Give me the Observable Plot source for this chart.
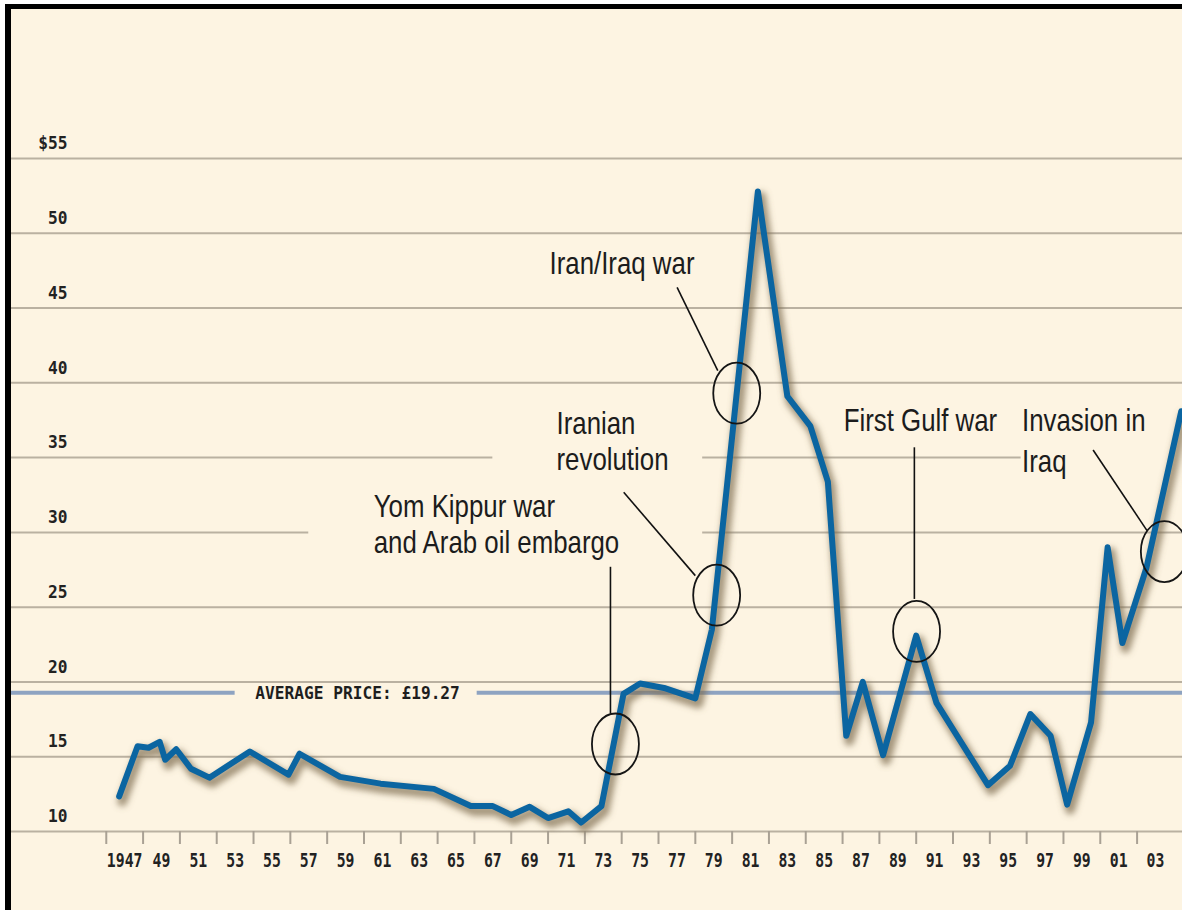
<!DOCTYPE html>
<html><head><meta charset="utf-8">
<script src="https://cdn.jsdelivr.net/npm/d3@7"></script>
<script src="https://cdn.jsdelivr.net/npm/@observablehq/plot@0.6"></script>
<style>
html,body{margin:0;padding:0;background:#fff;}
#wrap{position:relative;width:1182px;height:910px;overflow:hidden;background:#fff;}
#chart{position:absolute;left:0;top:0;}
.w{position:absolute;background:#fff;}
.b{position:absolute;background:#000;}
</style></head><body>
<div id="wrap">
  <div id="chart"></div>
  <div class="w" style="left:0;top:0;width:5px;height:910px"></div>
  <div class="w" style="left:0;top:0;width:1182px;height:4px"></div>
  <div class="b" style="left:5px;top:4px;width:6px;height:906px"></div>
  <div class="b" style="left:5px;top:4px;width:1177px;height:5px"></div>
</div>
<script>
// ---- data (year as decimal, price in $) ----
const years = [1946.7,1947.7,1948.3,1948.9,1949.2,1949.8,1950.6,1951.6,1953.8,1955.9,1956.5,1958.7,1960.9,1963.8,1965.8,1967.0,1968.0,1969.0,1970.0,1971.1,1971.8,1972.9,1974.1,1975.0,1976.3,1978.0,1978.9,1981.4,1983.0,1984.25,1985.2,1986.2,1987.1,1988.2,1990.0,1991.1,1993.9,1995.1,1996.2,1997.3,1998.2,1999.5,2000.4,2001.2,2002.5,2004.4];
const prices = [12.35,15.7,15.6,16.0,14.8,15.5,14.2,13.6,15.35,13.8,15.2,13.65,13.2,12.85,11.7,11.7,11.1,11.65,10.9,11.35,10.6,11.7,19.2,19.9,19.6,18.9,23.5,52.8,39.1,37.1,33.4,16.4,20.0,15.1,23.1,18.6,13.1,14.4,17.85,16.4,11.8,17.3,29.0,22.6,27.6,38.1];
const averagePrice = 19.27;
const gridValues = [10,15,20,25,30,35,40,45,50,55];
const tickYears = d3.range(1946, 2003, 2);
const labelYears = d3.range(1947, 2004, 2);

// annotations: label lines, pointer lines and circled events
const labelLines = [
  {text:"Iran/Iraq war", year:1970.08, price:47.27},
  {text:"Iranian", year:1970.46, price:36.58},
  {text:"revolution", year:1970.46, price:34.17},
  {text:"Yom Kippur war", year:1960.53, price:31.01},
  {text:"and Arab oil embargo", year:1960.53, price:28.60},
  {text:"First Gulf war", year:1986.06, price:36.80},
  {text:"Invasion in", year:1995.75, price:36.80},
  {text:"Iraq", year:1995.75, price:34.02}
];
const pointers = [
  {year1:1973.39, price1:27.7, year2:1973.39, price2:17.9},
  {year1:1974.11, price1:32.68, year2:1978.0, price2:27.11},
  {year1:1977.01, price1:46.38, year2:1979.22, price2:40.82},
  {year1:1989.9, price1:35.69, year2:1989.9, price2:25.55},
  {year1:1999.61, price1:35.51, year2:2002.54, price2:30.12}
];
const circled = [
  {event:"Yom Kippur war", year:1973.66, price:15.85},
  {event:"Iranian revolution", year:1979.16, price:25.80},
  {event:"Iran/Iraq war", year:1980.25, price:39.31},
  {event:"First Gulf war", year:1990.02, price:23.38},
  {event:"Invasion in Iraq", year:2003.48, price:28.72}
];
// gridline breaks behind the annotation text (years)
const gridBreaks = [
  {value:35, from:1967.0, to:1978.4},
  {value:35, from:1995.7, to:null},
  {value:30, from:1957.0, to:1978.4}
];
const averageBreak = {from:1953.0, to:1966.15};
const averageLabelYear = 1959.65;

// ---- layout ----
const W = 1182, H = 910;
const xDomain = [1949, 2003], xRange = [161, 1155];
const yDomain = [10, 55], yRange = [831, 158];
const xs = d3.scaleLinear(xDomain, xRange);
const xLeft = xs.invert(10), xRight = xs.invert(W);

function cut(segs, from, to) {
  return segs.flatMap(([a, c]) => (from >= c || to <= a) ? [[a, c]] :
    [[a, from], [to, c]].filter(([p, q]) => q > p));
}
const gridSegs = gridValues.flatMap(v => {
  let segs = [[xLeft, xRight]];
  for (const b of gridBreaks.filter(b => b.value === v)) segs = cut(segs, b.from, b.to ?? xRight);
  return segs.map(([a, c]) => ({value: v, x1: a, x2: c}));
});
const avgSegs = cut([[xLeft, xRight]], averageBreak.from, averageBreak.to)
  .map(([a, c]) => ({value: averagePrice, x1: a, x2: c}));

const series = years.map((y, i) => ({year: y, price: prices[i]}));

const ellipse = {
  draw(ctx, size) {
    const ry = Math.sqrt(size / Math.PI), rx = ry * 0.77, k = 0.5523;
    ctx.moveTo(rx, 0);
    ctx.bezierCurveTo(rx, k * ry, k * rx, ry, 0, ry);
    ctx.bezierCurveTo(-k * rx, ry, -rx, k * ry, -rx, 0);
    ctx.bezierCurveTo(-rx, -k * ry, -k * rx, -ry, 0, -ry);
    ctx.bezierCurveTo(k * rx, -ry, rx, -k * ry, rx, 0);
    ctx.closePath();
  }
};

const pixFont = "DejaVu Sans Mono";
const annFont = "'Liberation Sans', Arial, sans-serif";

const chart = Plot.plot({
  width: W, height: H,
  marginLeft: 10, marginRight: 0, marginTop: 9, marginBottom: 79,
  style: {background: "#fdf4e2", overflow: "visible"},
  x: {domain: xDomain, range: xRange, axis: null},
  y: {domain: yDomain, range: yRange, axis: null},
  marks: [
    Plot.ruleY(gridSegs, {y: "value", x1: "x1", x2: "x2", stroke: "#bab1a1", strokeWidth: 2}),
    Plot.ruleY(avgSegs, {y: "value", x1: "x1", x2: "x2", stroke: "#8ea3c1", strokeWidth: 4}),
    Plot.text([{year: averageLabelYear, price: averagePrice}], {
      x: "year", y: "price", text: () => `AVERAGE PRICE: £${averagePrice}`, ariaLabel: "avg",
      fontFamily: pixFont, fontWeight: "bold", fontSize: 18, fill: "#1e1e1e", textAnchor: "middle"
    }),
    Plot.axisY(gridValues, {
      tickSize: 0, tickPadding: 0, dx: 57, dy: -15, textAnchor: "end",
      tickFormat: d => d === 55 ? "$55" : String(d), label: null,
      fontFamily: pixFont, fontWeight: "bold", fontSize: 18, fill: "#222"
    }),
    Plot.axisX(tickYears, {
      tickSize: 13, tickFormat: () => "", stroke: "#a9a194", strokeWidth: 2, label: null
    }),
    Plot.axisX(labelYears, {
      tickSize: 0, tickPadding: 21, label: null,
      tickFormat: d => d === 1947 ? "1947" : String(d % 100).padStart(2, "0"),
      fontFamily: pixFont, fontWeight: "bold", fontSize: 20, fill: "#222"
    }),
    Plot.line(series, {x: "year", y: "price", stroke: "#7d6c50", strokeOpacity: 0.7, strokeWidth: 10, dx: 3, dy: 5, curve: "linear"}),
    Plot.line(series, {x: "year", y: "price", stroke: "#0b65a1", strokeWidth: 6, strokeLinejoin: "round", curve: "linear"}),
    Plot.link(pointers, {x1: "year1", y1: "price1", x2: "year2", y2: "price2", stroke: "#111", strokeWidth: 1.6}),
    Plot.dot(circled, {x: "year", y: "price", r: 30.5, symbol: ellipse, stroke: "#151515", strokeWidth: 1.8, fill: "none"}),
    Plot.text(labelLines, {
      x: "year", y: "price", text: "text", textAnchor: "start", lineAnchor: "bottom",
      fontFamily: annFont, fontSize: 31.5, fill: "#1c1c1c"
    })
  ]
});

// horizontally condense text (narrow typefaces are not installed)
function squeeze(g, s) {
  if (!g) return;
  g.querySelectorAll("text").forEach(t => {
    const tr = t.getAttribute("transform");
    if (tr) t.setAttribute("transform", tr + ` scale(${s},1)`);
    else {
      const x = +t.getAttribute("x") || 0, y = +t.getAttribute("y") || 0;
      t.removeAttribute("x"); t.removeAttribute("y");
      t.setAttribute("transform", `translate(${x},${y}) scale(${s},1)`);
    }
  });
}
const textGroups = chart.querySelectorAll('g[aria-label="text"]');
squeeze(textGroups[textGroups.length - 1], 0.82);
squeeze(chart.querySelector('g[aria-label="avg"]') || textGroups[0], 0.9);
squeeze(chart.querySelector('g[aria-label="y-axis tick label"]'), 0.9);
const xl = chart.querySelectorAll('g[aria-label="x-axis tick label"]');
squeeze(xl[xl.length - 1], 0.74);

// soft drop shadow under the price line
const ns = "http://www.w3.org/2000/svg";
const defs = document.createElementNS(ns, "defs");
const filter = document.createElementNS(ns, "filter");
filter.setAttribute("id", "soft");
filter.setAttribute("x", "-10%"); filter.setAttribute("y", "-10%");
filter.setAttribute("width", "120%"); filter.setAttribute("height", "120%");
const blur = document.createElementNS(ns, "feGaussianBlur");
blur.setAttribute("stdDeviation", "3");
filter.appendChild(blur); defs.appendChild(filter);
chart.insertBefore(defs, chart.firstChild);
const lines = chart.querySelectorAll('g[aria-label="line"]');
if (lines.length) lines[0].setAttribute("filter", "url(#soft)");

document.getElementById("chart").appendChild(chart);
</script>
</body></html>
